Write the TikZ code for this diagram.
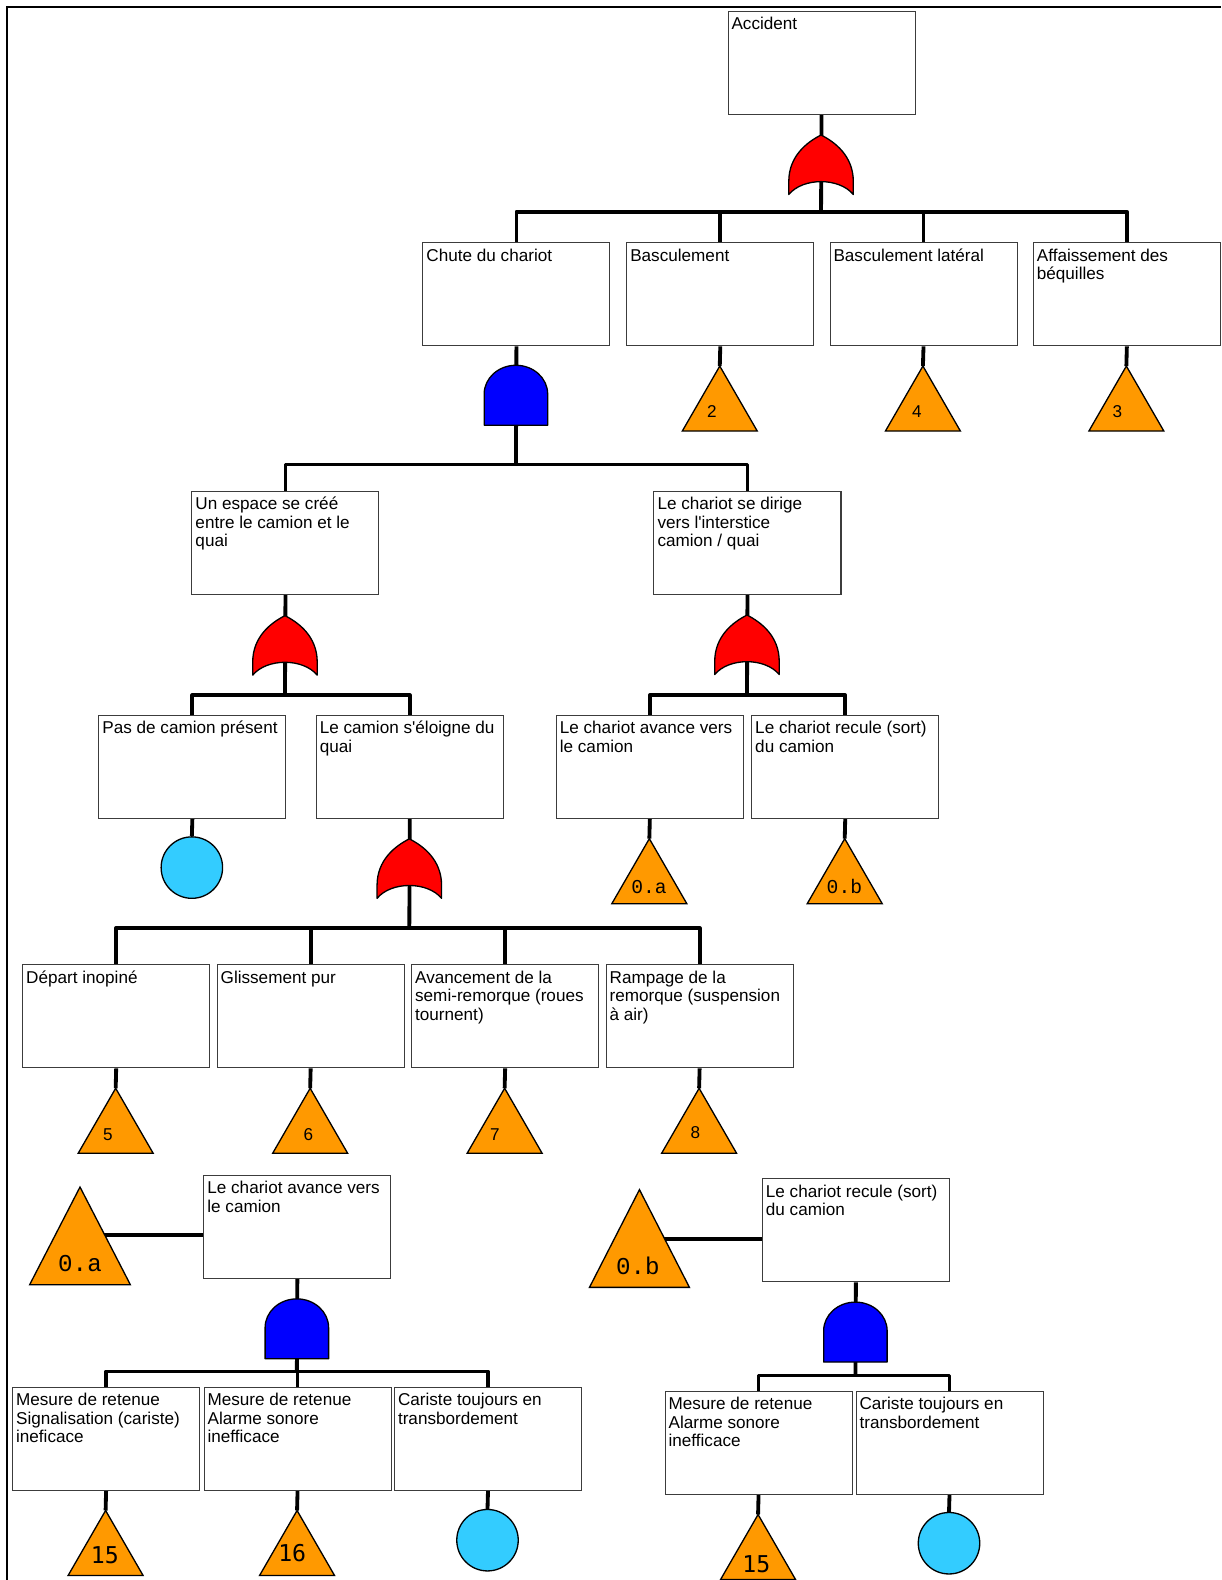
\documentclass[tikz,border=0pt]{standalone}
\usepackage{fontspec}
\newfontfamily\bxfont{Liberation Sans}[Ligatures=TeXOff]
\newfontfamily\courfont{Liberation Mono}
\newfontfamily\dvmfont{DejaVu Sans Mono}
\usetikzlibrary{calc,backgrounds}

\definecolor{orred}{RGB}{255,0,0}
\definecolor{andblue}{RGB}{0,0,255}
\definecolor{transfer}{RGB}{255,153,0}
\definecolor{basicev}{RGB}{51,204,255}
\definecolor{boxline}{RGB}{60,60,60}

\tikzset{
  evbox/.style={draw=boxline, line width=1pt, fill=white, minimum width=185.6pt,
    minimum height=102.3pt, inner sep=0pt, anchor=north west},
  evtext/.style={anchor=base west, inner sep=0pt,
    font=\bxfont\fontsize{17}{18.6}\selectfont},
  wire/.style={line width=3.8pt, line join=round},
  gateline/.style={draw=black, line width=1.3pt, line join=round},
  tri/.style={draw=black, line width=1.3pt, fill=transfer, line join=miter},
  basic/.style={circle, draw=black, line width=1.3pt, fill=basicev,
    minimum size=61pt, inner sep=0pt},
  numlab/.style={inner sep=0pt, font=\bxfont\fontsize{17}{17}\selectfont},
  reflab/.style={inner sep=0pt, font=\courfont\fontsize{19.5}{19.5}\selectfont},
  bigref/.style={inner sep=0pt, font=\courfont\fontsize{24}{24}\selectfont},
  monolab/.style={inner sep=0pt, font=\dvmfont\fontsize{23}{23}\selectfont},
  frameline/.style={line width=2pt, line join=miter}
}

% event box: name, left, top, text
\newcommand\evnode[4]{%
  \node[evbox] (#1) at (#2,#3) {};
  \node[evtext] (#1-txt) at ($(#1.north west)+(3.8,18.6)$)
    {\parbox[t]{182pt}{\raggedright #4}};}

% OR gate: name, centre x, bottom y
\newcommand\orgate[3]{%
  \coordinate (#1) at (#2,#3);
  \begin{scope}[shift={(#2,#3)}]
    \draw[gateline, fill=orred] (-32,0) -- (-32,-13)
      .. controls (-32,-38) and (-14,-52) .. (0,-59)
      .. controls (14,-52) and (32,-38) .. (32,-13)
      -- (32,0) .. controls (18,-17) and (-18,-17) .. (-32,0) -- cycle;
  \end{scope}}

% AND gate: name, centre x, bottom y
\newcommand\andgate[3]{%
  \coordinate (#1) at (#2,#3);
  \begin{scope}[shift={(#2,#3)}]
    \draw[gateline, fill=andblue] (-31.5,0) -- (-31.5,-31)
      arc[start angle=180, end angle=360, x radius=31.5, y radius=28.5]
      -- (31.5,0) -- cycle;
  \end{scope}}

% transfer triangle: name, apex x, apex y, half width, height
\newcommand\transtri[5]{%
  \coordinate (#1) at (#2,#3);
  \draw[tri] (#1) -- ++(-#4,#5) -- ++(2*#4,0) -- cycle;}

\begin{document}
\begin{tikzpicture}[x=1pt, y=-1pt]
\useasboundingbox (0,0) rectangle (1212,1568);

% page frame
\draw[frameline] (7.3,1568) -- (7.3,7.3) -- (1212,7.3);

% ---------- events ----------
\evnode{acc}{722}{11}{Accident}
\evnode{chute}{419.2}{240.5}{Chute du chariot}
\evnode{basc}{621.5}{240.5}{Basculement}
\evnode{bascl}{823.2}{240.5}{Basculement latéral}
\evnode{aff}{1025}{240.5}{Affaissement des\\béquilles}
\evnode{espace}{190}{487}{Un espace se créé\\entre le camion et le\\quai}
\evnode{dirige}{648.5}{487}{Le chariot se dirige\\vers l'interstice\\camion / quai}
\evnode{pas}{97.6}{709.3}{Pas de camion présent}
\evnode{eloigne}{313.4}{709.3}{Le camion s'éloigne du\\quai}
\evnode{avm}{551.6}{709.5}{Le chariot avance vers\\le camion}
\evnode{recm}{745.5}{709.5}{Le chariot recule (sort)\\du camion}
\evnode{depart}{22}{957}{Départ inopiné}
\evnode{gliss}{215}{957}{Glissement pur}
\evnode{avan}{408}{957}{Avancement de la\\semi-remorque (roues\\tournent)}
\evnode{ramp}{601}{957}{Rampage de la\\remorque (suspension\\à air)}
\evnode{avl}{201.8}{1165.7}{Le chariot avance vers\\le camion}
\evnode{recl}{756.1}{1169.4}{Le chariot recule (sort)\\du camion}
\evnode{mes1}{12}{1376}{Mesure de retenue\\Signalisation (cariste)\\ineficace}
\evnode{mes2}{202}{1376}{Mesure de retenue\\Alarme sonore\\inefficace}
\evnode{car1}{391}{1376}{Cariste toujours en\\transbordement}
\evnode{mes3}{659.5}{1380}{Mesure de retenue\\Alarme sonore\\inefficace}
\evnode{car2}{849}{1380}{Cariste toujours en\\transbordement}

% ---------- gates ----------
\orgate{g0}{814.8}{193}
\andgate{g1}{512}{422}
\orgate{g2}{282.8}{670}
\orgate{g3}{741.3}{669.4}
\orgate{g4}{406.2}{891.5}
\andgate{g5}{294.6}{1348.5}
\andgate{g6}{848.9}{1351.7}

% ---------- transfer triangles ----------
\transtri{t2}{714.3}{363.3}{37.2}{64.5}
\transtri{t4}{915.9}{363.3}{37.2}{64.5}
\transtri{t3}{1117.8}{363.3}{37.2}{64.5}
\transtri{t0a}{644.4}{832.3}{37.2}{64.5}
\transtri{t0b}{838.3}{832.3}{37.2}{64.5}
\transtri{t5}{114.8}{1080}{37.2}{64.5}
\transtri{t6}{307.8}{1080}{37.2}{64.5}
\transtri{t7}{500.8}{1080}{37.2}{64.5}
\transtri{t8}{693.8}{1080}{37.2}{64.5}
\transtri{ta}{79.4}{1178}{50}{97}
\transtri{tb}{634.6}{1180.6}{49.6}{97}
\transtri{t15a}{104.8}{1499}{37.2}{64.5}
\transtri{t16}{294.8}{1499}{37.2}{64.5}
\transtri{t15b}{752.3}{1503}{37.2}{64.5}

\node[numlab] (l2) at (706.5,408.6) {2};
\node[numlab] (l4) at (910,408.6) {4};
\node[numlab] (l3) at (1109,408.6) {3};
\node[reflab] (l0a) at (644,880) {0.a};
\node[reflab] (l0b) at (838,880) {0.b};
\node[numlab] (l5) at (107,1126) {5};
\node[numlab] (l6) at (306,1126) {6};
\node[numlab] (l7) at (491,1126) {7};
\node[numlab] (l8) at (690,1124) {8};
\node[bigref] (lA) at (79.4,1253.7) {0.a};
\node[bigref] (lB) at (633,1256) {0.b};
\node[monolab] (l15a) at (104,1543) {15};
\node[monolab] (l16) at (290,1541) {16};
\node[monolab] (l15b) at (750.6,1552) {15};

% ---------- basic events ----------
\node[basic] (c1) at (190.4,861) {};
\node[basic] (c2) at (483.8,1528.5) {};
\node[basic] (c3) at (941.8,1531.5) {};

% ---------- connectors ----------
\coordinate (bus0) at (814.8,210);
\coordinate (bus1) at (512,461);
\coordinate (bus2) at (282.8,690);
\coordinate (bus3) at (741.3,690);
\coordinate (bus4) at (406.2,921);
\coordinate (bus5) at (294.6,1361);
\coordinate (bus6) at (848.9,1365);
\coordinate (ja) at (90,1226);
\coordinate (jb) at (645,1229.2);

\begin{scope}[on background layer]
  \draw[wire] (acc.south) -- (bus0);
  \draw[wire] (chute.north) |- (bus0) -| (aff.north);
  \draw[wire] (basc.north) -- (basc.north |- bus0);
  \draw[wire] (bascl.north) -- (bascl.north |- bus0);
  \draw[wire] (basc.south) -- (t2);
  \draw[wire] (bascl.south) -- (t4);
  \draw[wire] (aff.south) -- (t3);

  \draw[wire] (chute.south) -- (bus1);
  \draw[wire] (espace.north) |- (bus1) -| (dirige.north);

  \draw[wire] (espace.south) -- (bus2);
  \draw[wire] (pas.north) |- (bus2) -| (eloigne.north);
  \draw[wire] (dirige.south) -- (bus3);
  \draw[wire] (avm.north) |- (bus3) -| (recm.north);
  \draw[wire] (pas.south) -- (c1.north);
  \draw[wire] (avm.south) -- (t0a);
  \draw[wire] (recm.south) -- (t0b);

  \draw[wire] (eloigne.south) -- (bus4);
  \draw[wire] (depart.north) |- (bus4) -| (ramp.north);
  \draw[wire] (gliss.north) -- (gliss.north |- bus4);
  \draw[wire] (avan.north) -- (avan.north |- bus4);
  \draw[wire] (depart.south) -- (t5);
  \draw[wire] (gliss.south) -- (t6);
  \draw[wire] (avan.south) -- (t7);
  \draw[wire] (ramp.south) -- (t8);

  \draw[wire] (ja) -- (ja -| avl.west);
  \draw[wire] (avl.south) -- (bus5);
  \draw[wire] (mes1.north) |- (bus5) -| (car1.north);
  \draw[wire] (mes2.north) -- (mes2.north |- bus5);
  \draw[wire] (mes1.south) -- (t15a);
  \draw[wire] (mes2.south) -- (t16);
  \draw[wire] (car1.south) -- (c2.north);

  \draw[wire] (jb) -- (jb -| recl.west);
  \draw[wire] (recl.south) -- (bus6);
  \draw[wire] (mes3.north) |- (bus6) -| (car2.north);
  \draw[wire] (mes3.south) -- (t15b);
  \draw[wire] (car2.south) -- (c3.north);
\end{scope}
\end{tikzpicture}
\end{document}
